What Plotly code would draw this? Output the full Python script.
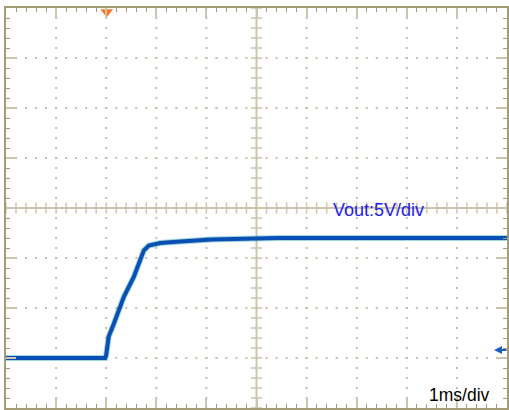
import numpy as np
import plotly.graph_objects as go

# ---- data (time in ms relative to trigger, voltage in V) ----
time_ms = [-2.0, -0.02, 0.0, 0.02, 0.05, 0.15, 0.35, 0.55, 0.68, 0.75, 0.85, 1.08, 1.48, 2.1, 3.43, 8.0]
vout_v = [0.0, 0.0, 0.3, 1.25, 2.15, 3.4, 6.1, 8.1, 9.75, 10.75, 11.25, 11.5, 11.65, 11.85, 12.0, 12.0]

ch_label = "Vout:5V/div"
tb_label = "1ms/div"

X_RANGE = [-2.0, 8.0]
Y_RANGE = [-5.0, 35.0]
X_CENTER = 3.0
Y_CENTER = 15.0

grid_dot = "#c2bda5"
border_col = "#a39c74"
major_tick = "#cbc6b0"
cross_col = "#cdc5ae"

fig = go.Figure()

# dotted graticule
vx = [v for v in np.arange(-1, 8, 1.0) if v != X_CENTER]
hy = [v for v in np.arange(0, 35, 5.0) if v != Y_CENTER]
dx, dy = [], []
for xv in vx:
    for yv in np.arange(-5, 35.01, 1.0):
        dx.append(xv); dy.append(yv)
for yv in hy:
    for xv in np.arange(-2, 8.001, 0.2):
        dx.append(xv); dy.append(yv)
fig.add_trace(go.Scatter(x=dx, y=dy, mode="markers",
                         marker=dict(symbol="square", size=2, color=grid_dot, line=dict(width=0)),
                         hoverinfo="skip", showlegend=False))

# center cross
fig.add_shape(type="line", x0=X_CENTER, x1=X_CENTER, y0=Y_RANGE[0], y1=Y_RANGE[1],
              line=dict(color=cross_col, width=2), layer="below")
fig.add_shape(type="line", x0=X_RANGE[0], x1=X_RANGE[1], y0=Y_CENTER, y1=Y_CENTER,
              line=dict(color=cross_col, width=2), layer="below")
cy = list(np.arange(-5, 35.01, 1.0))
fig.add_trace(go.Scatter(x=[X_CENTER] * len(cy), y=cy, mode="markers",
                         marker=dict(symbol="line-ew", size=8, line=dict(color=cross_col, width=1.5)),
                         hoverinfo="skip", showlegend=False))
cx = list(np.arange(-2, 8.001, 0.2))
fig.add_trace(go.Scatter(x=cx, y=[Y_CENTER] * len(cx), mode="markers",
                         marker=dict(symbol="line-ns", size=8, line=dict(color=cross_col, width=1.5)),
                         hoverinfo="skip", showlegend=False))

# waveform
fig.add_trace(go.Scatter(x=time_ms, y=vout_v, mode="lines",
                         line=dict(color="rgba(20,150,180,0.40)", width=6),
                         hoverinfo="skip", showlegend=False))
fig.add_trace(go.Scatter(x=time_ms, y=vout_v, mode="lines",
                         line=dict(color="#0a50b4", width=4),
                         showlegend=False))

# trigger marker
fig.add_trace(go.Scatter(x=[0.01], y=[34.6], mode="markers",
                         marker=dict(symbol="triangle-down", size=11, color="#ff7424", line=dict(width=0)),
                         cliponaxis=False, hoverinfo="skip", showlegend=False))

# ground arrow
fig.add_annotation(x=7.74, y=0.8, xref="x", yref="y", text="", showarrow=True,
                   ax=14, ay=0, arrowhead=2, arrowsize=0.8, arrowwidth=2, arrowcolor="#1a5fc0")

fig.add_annotation(x=4.49, y=14.8, xref="x", yref="y", text=ch_label, showarrow=False,
                   xanchor="left", yanchor="middle",
                   font=dict(family="Liberation Sans, Arial", size=18, color="#2222ee"))
fig.add_annotation(x=6.41, y=-3.7, xref="x", yref="y", text=tb_label, showarrow=False,
                   xanchor="left", yanchor="middle",
                   font=dict(family="Liberation Sans, Arial", size=17.5, color="#000000"))

fig.update_xaxes(range=X_RANGE, showgrid=False, zeroline=False, showticklabels=False,
                 showline=True, linecolor=border_col, linewidth=2, mirror="ticks",
                 ticks="inside", tick0=0, dtick=1, ticklen=10, tickwidth=2, tickcolor=major_tick,
                 minor=dict(ticks="inside", tick0=0, dtick=0.2, ticklen=4, tickwidth=1,
                            tickcolor=border_col, showgrid=False))
fig.update_yaxes(range=Y_RANGE, showgrid=False, zeroline=False, showticklabels=False,
                 showline=True, linecolor=border_col, linewidth=2, mirror="ticks",
                 ticks="inside", tick0=0, dtick=5, ticklen=10, tickwidth=2, tickcolor=major_tick,
                 minor=dict(ticks="inside", tick0=0, dtick=1, ticklen=4, tickwidth=1,
                            tickcolor=border_col, showgrid=False))

fig.update_layout(width=509, height=410, margin=dict(l=6, r=0, t=8, b=2),
                  paper_bgcolor="white", plot_bgcolor="white", showlegend=False)

fig.write_html("out.html", config={"displayModeBar": False},
               post_script="document.body.style.margin='0';document.body.style.padding='0';document.body.style.overflow='hidden';")
